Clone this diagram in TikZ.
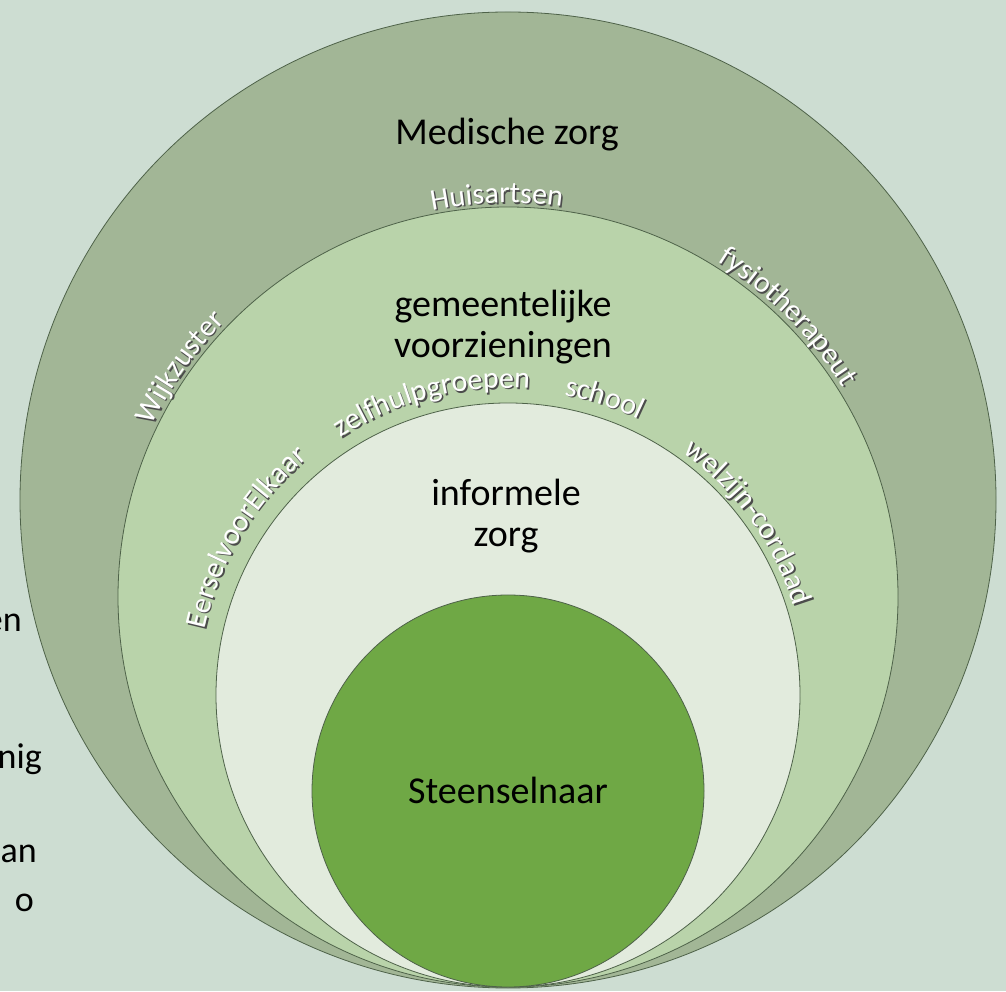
\documentclass[tikz,border=0pt]{standalone}
\usepackage{fontspec}
\setmainfont{Carlito}
\usetikzlibrary{decorations.text}

\definecolor{bgcol}{HTML}{CDDDD2}
\definecolor{medcol}{HTML}{A2B696}
\definecolor{gemcol}{HTML}{B9D3AA}
\definecolor{infcol}{HTML}{E2EBDD}
\definecolor{steencol}{HTML}{6FA845}
\definecolor{linecol}{HTML}{4E6249}

\newcommand\zonefont{\fontsize{38}{41}\selectfont}
\newcommand\ringfont{\fontsize{30}{30}\selectfont}

% white text along a ring, with a soft dark shadow
\newcommand\ringlabel[4]{%
  \path[opacity=.35, decorate, decoration={text along path, text align=center,
      text color=black!70, text={|\ringfont|#4}}]
    ([shift={(1.5,-1.5)}]#1) ++({#2+70}:#3) arc[start angle={#2+70}, end angle={#2-70}, radius=#3];
  \path[decorate, decoration={text along path, text align=center,
      text color=white, text={|\ringfont|#4}}]
    (#1) ++({#2+70}:#3) arc[start angle={#2+70}, end angle={#2-70}, radius=#3];
}

\tikzset{
  ring/.style={draw=linecol, line width=0.8pt, circle, inner sep=0pt},
  zonetext/.style={font=\zonefont, align=center, inner sep=0pt},
  cuttext/.style={font=\fontsize{36}{40}\selectfont, inner sep=0pt, anchor=base east}
}

\begin{document}
\begin{tikzpicture}[x=1pt, y=1pt]
\fill[bgcol] (0,0) rectangle (1006,991);
\useasboundingbox (0,0) rectangle (1006,991);

% cut-off text at the left border
\node[cuttext] (cut1) at (22,359) {en};
\node[cuttext] (cut2) at (42,223) {nig};
\node[cuttext] (cut3) at (37,129) {an};
\node[cuttext] (cut4) at (34,80) {o};

\node[ring, fill=medcol, minimum size=976pt] (medring) at (508,491) {};
\node[ring, fill=gemcol, minimum size=780pt] (gemring) at (508,394) {};
\node[ring, fill=infcol, minimum size=584pt] (infring) at (508,296) {};
\node[ring, fill=steencol, minimum size=392pt] (steenring) at (508,200) {};

\node[zonetext, anchor=base] (med) at (507,846) {Medische zorg};
\node[zonetext] (gem) at (503,664) {gemeentelijke\\voorzieningen};
\node[zonetext] (inf) at (506,475) {informele\\zorg};
\node[zonetext] (steen) at (508,201) {Steenselnaar};

\ringlabel{gemring.center}{91.6}{394}{Huisartsen}
\ringlabel{gemring.center}{145}{395}{Wijkzuster}
\ringlabel{gemring.center}{45}{395}{fysiotherapeut}

\ringlabel{infring.center}{149}{310}{EerselvoorElkaar}
\ringlabel{infring.center}{104.5}{307}{zelfhulpgroepen}
\ringlabel{infring.center}{72}{305}{school}
\ringlabel{infring.center}{35.7}{299}{welzijn-cordaad}
\end{tikzpicture}
\end{document}
